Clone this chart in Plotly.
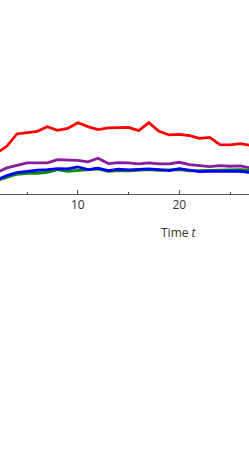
import plotly.graph_objects as go

t = list(range(2, 28))

red = [153.5, 146.7, 134.3, 132.7, 131.7, 127.0, 130.7, 128.7, 123.0, 127.0, 130.0, 128.3, 128.0,
       127.7, 131.0, 123.0, 131.7, 135.3, 134.7, 136.0, 138.7, 137.7, 145.0, 145.3, 144.0, 145.7]
purple = [173.0, 168.3, 165.7, 163.3, 163.3, 163.3, 160.0, 160.7, 160.7, 162.3, 158.7, 164.0, 163.0,
          163.3, 164.3, 163.3, 164.3, 164.3, 162.7, 165.0, 166.3, 167.0, 166.0, 166.7, 166.3, 168.3]
blue = [180.3, 176.0, 173.0, 171.7, 170.7, 170.0, 169.0, 169.3, 167.3, 170.0, 168.7, 171.0, 169.7,
        170.3, 170.0, 169.3, 170.0, 171.0, 169.0, 170.7, 172.0, 171.7, 171.7, 172.3, 171.7, 173.0]
green = [181.0, 177.7, 174.7, 173.7, 173.7, 172.7, 170.0, 171.7, 171.0, 170.7, 169.3, 171.7, 171.0,
         171.3, 170.7, 170.0, 170.7, 170.7, 170.0, 171.3, 171.0, 171.0, 170.7, 170.0, 170.0, 170.7]

# convert pixel readings into value units (axis line = 0)
def val(arr):
    return [(194.5 - p) / 10 for p in arr]

series = [("red", red, "#ff0000"), ("purple", purple, "#8a1b9a"),
          ("green", green, "#0a8a0a"), ("blue", blue, "#0000ff")]

fig = go.Figure()
for name, arr, col in series:
    fig.add_trace(go.Scatter(x=t, y=val(arr), mode="lines", name=name,
                             line=dict(color=col, width=2.8), showlegend=False))

fig.update_layout(
    width=249, height=459,
    margin=dict(l=0, r=0, t=0, b=264.5),
    paper_bgcolor="white", plot_bgcolor="white",
    font=dict(family="Open Sans", size=12, color="#333"),
    xaxis=dict(range=[2.335, 26.87], tickvals=[10, 20], ticks="inside", ticklen=4,
               tickcolor="#444", showline=True, linecolor="#555", linewidth=1,
               showgrid=False, zeroline=False,
               minor=dict(tickvals=[5, 15, 25], ticks="inside", ticklen=2, tickcolor="#444")),
    yaxis=dict(range=[0, 19.45], visible=False, showgrid=False),
    annotations=[dict(x=20, y=(194.5 - 233) / 194.5, xref="x", yref="paper",
                      yanchor="middle", text="Time <i>t</i>", showarrow=False,
                      font=dict(size=12, color="#333"))],
)

fig.write_html("out.html", config={"displayModeBar": False},
               post_script="document.body.style.margin='0';")
